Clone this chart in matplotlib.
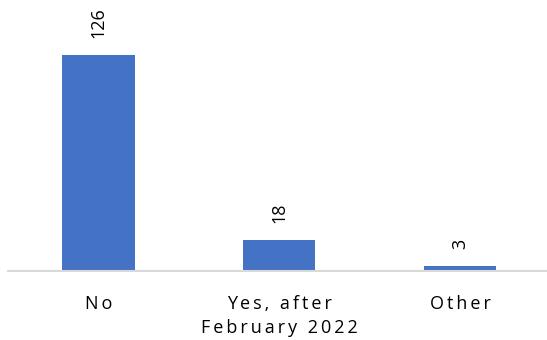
import matplotlib.pyplot as plt

categories = ["No", "Yes, after\nFebruary 2022", "Other"]
values = [126, 18, 3]

bar_color = "#4472C4"


def spaced(s):
    # fake the wide letter spacing of the original
    return "\n".join("\u2009".join(line) for line in s.split("\n"))


fig = plt.figure(figsize=(5.47, 3.40), dpi=100)
ax = fig.add_axes([8 / 547, 69 / 340, 539 / 547, 271 / 340])

x = range(len(categories))
bars = ax.bar(x, values, width=0.4, color=bar_color, zorder=2)

for xi, v in zip(x, values):
    ax.annotate(str(v), (xi, v), xytext=(0, 12), textcoords="offset points",
                rotation=90, ha="center", va="bottom", fontsize=13,
                family="Open Sans", color="#000000")

ax.set_xlim(-0.5, 2.48)
ax.set_ylim(0, 158)
ax.set_xticks(list(x))
ax.set_xticklabels([spaced(c) for c in categories], fontsize=13,
                   family=["Open Sans", "DejaVu Sans"], linespacing=1.45)
ax.tick_params(axis="x", length=0, pad=17)
ax.set_yticks([])

for side in ["top", "right", "left"]:
    ax.spines[side].set_visible(False)
ax.spines["bottom"].set_color("#D9D9D9")
ax.spines["bottom"].set_linewidth(1.5)

fig.savefig("out.png", dpi=100)
